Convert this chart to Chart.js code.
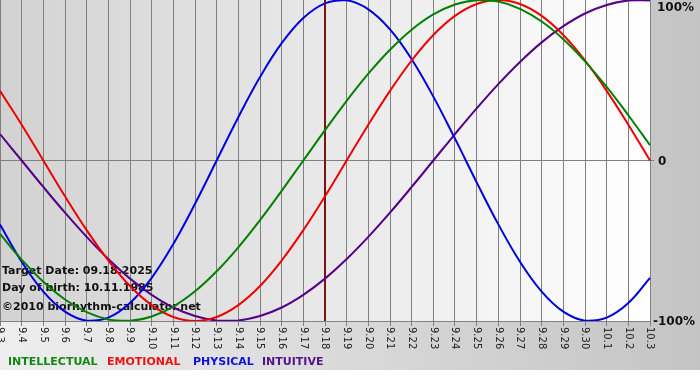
<!DOCTYPE html>
<html>
<head>
<meta charset="utf-8">
<script src="https://cdn.jsdelivr.net/npm/chart.js@4/dist/chart.umd.min.js"></script>
<style>
  html, body { margin: 0; padding: 0; background: #ffffff; }
  #wrap { width: 700px; height: 380px; }
</style>
</head>
<body>
<div id="wrap"><canvas id="c" width="700" height="380"></canvas></div>
<script>
// ---- data ----
const labels = ['9.3','9.4','9.5','9.6','9.7','9.8','9.9','9.10','9.11','9.12','9.13','9.14','9.15','9.16','9.17','9.18','9.19','9.20','9.21','9.22','9.23','9.24','9.25','9.26','9.27','9.28','9.29','9.30','10.1','10.2','10.3'];
const intellectual = [-45.8,-61.8,-75.6,-86.6,-94.5,-99.0,-99.9,-97.2,-91.0,-81.5,-69.0,-54.1,-37.2,-18.9,0,18.9,37.2,54.1,69.0,81.5,91.0,97.2,99.9,99.0,94.5,86.6,75.6,61.8,45.8,28.2,9.5];
const emotional = [43.4,22.3,0,-22.3,-43.4,-62.3,-78.2,-90.1,-97.5,-100,-97.5,-90.1,-78.2,-62.3,-43.4,-22.3,0,22.3,43.4,62.3,78.2,90.1,97.5,100,97.5,90.1,78.2,62.3,43.4,22.3,0];
const physical = [-39.8,-63.1,-81.7,-94.2,-99.8,-97.9,-88.8,-73.1,-52.0,-27.0,0,27.0,52.0,73.1,88.8,97.9,99.8,94.2,81.7,63.1,39.8,13.6,-13.6,-39.8,-63.1,-81.7,-94.2,-99.8,-97.9,-88.8,-73.1];
const intuitive = [16.5,0,-16.5,-32.5,-47.6,-61.4,-73.6,-83.7,-91.6,-96.9,-99.7,-99.7,-96.9,-91.6,-83.7,-73.6,-61.4,-47.6,-32.5,-16.5,0,16.5,32.5,47.6,61.4,73.6,83.7,91.6,96.9,99.7,99.7];
const yTickValues = [-100, 0, 100];
const yTickLabels = ['-100%', '0', '100%'];
const targetLabel = '9.18';
const infoLines = ['Target Date: 09.18.2025', 'Day of birth: 10.11.1985', '\u00A92010 biorhythm-calculator.net'];
const legendNames = ['INTELLECTUAL', 'EMOTIONAL', 'PHYSICAL', 'INTUITIVE'];

const colors = ['#008000', '#ee0000', '#0000dd', '#550088'];
const legendColors = ['#118811', '#ee1111', '#1111dd', '#551188'];

const bgPlugin = {
  id: 'bg',
  beforeDraw(chart) {
    const ctx = chart.ctx, a = chart.chartArea;
    ctx.save();
    // outer background
    const g = ctx.createLinearGradient(0, 0, chart.width, 0);
    g.addColorStop(0, '#eeeeee');
    g.addColorStop(1, '#c4c4c4');
    ctx.fillStyle = g;
    ctx.fillRect(0, 0, chart.width, 370);
    const g3 = ctx.createLinearGradient(0, 0, chart.width, 0);
    g3.addColorStop(0, '#d0d0d0');
    g3.addColorStop(0.9, '#c8c8c8');
    g3.addColorStop(1, '#c4c4c4');
    ctx.fillStyle = g3;
    ctx.fillRect(a.right, 0, chart.width - a.right, a.bottom + 20);
    ctx.fillStyle = '#ffffff';
    ctx.fillRect(0, 370, chart.width, chart.height - 370);
    // plot area
    const g2 = ctx.createLinearGradient(a.left, 0, a.right, 0);
    g2.addColorStop(0, '#d2d2d2');
    g2.addColorStop(1, '#ffffff');
    ctx.fillStyle = g2;
    ctx.fillRect(a.left, a.top, a.right - a.left, a.bottom - a.top);
    ctx.restore();
  },
  beforeDatasetsDraw(chart) {
    const ctx = chart.ctx, a = chart.chartArea;
    const xs = chart.scales.x;
    ctx.save();
    // target line
    const tx = Math.round(xs.getPixelForValue(labels.indexOf(targetLabel)));
    ctx.strokeStyle = '#7a1414';
    ctx.lineWidth = 2;
    ctx.beginPath();
    ctx.moveTo(tx, a.top);
    ctx.lineTo(tx, a.bottom);
    ctx.stroke();
    // info text
    ctx.fillStyle = '#111111';
    ctx.font = 'bold 11px "DejaVu Sans"';
    ctx.textBaseline = 'middle';
    ctx.textAlign = 'left';
    ctx.fillText(infoLines[0], 2, 271, 152);
    ctx.fillText(infoLines[1], 2, 288, 152);
    ctx.fillText(infoLines[2], 2, 307, 201);
    ctx.restore();
  },
  afterDraw(chart) {
    const ctx = chart.ctx, a = chart.chartArea;
    const xs = chart.scales.x, ys = chart.scales.y;
    ctx.save();
    // rotated x labels
    ctx.fillStyle = '#222222';
    ctx.font = '10px "DejaVu Sans"';
    ctx.textBaseline = 'middle';
    ctx.textAlign = 'left';
    labels.forEach((lb, i) => {
      const x = xs.getPixelForValue(i);
      ctx.save();
      ctx.translate(x, a.bottom + 6);
      ctx.rotate(Math.PI / 2);
      ctx.fillText(lb, 0, 0);
      ctx.restore();
    });
    // y labels
    ctx.fillStyle = '#111111';
    ctx.font = 'bold 12px "DejaVu Sans"';
    yTickValues.forEach((v, i) => {
      let y = ys.getPixelForValue(v);
      if (y < a.top + 7) y = a.top + 7;
      const txt = yTickLabels[i];
      ctx.fillText(txt, txt === '0' ? a.right + 8 : (txt === '100%' ? a.right + 7 : a.right + 3), y + 1, 46);
    });
    // legend
    ctx.font = 'bold 11px "DejaVu Sans"';
    const lx = [8, 107, 193, 262];
    const lw = [92, 75, 61, 67];
    legendNames.forEach((n, i) => {
      ctx.fillStyle = legendColors[i];
      ctx.fillText(n, lx[i], 362, lw[i]);
    });
    ctx.restore();
  }
};

const mk = (label, data, color) => ({
  label, data, borderColor: color, backgroundColor: color,
  borderWidth: 2, pointRadius: 0, tension: 0.4, fill: false
});

new Chart(document.getElementById('c'), {
  type: 'line',
  data: {
    labels,
    datasets: [
      mk('INTELLECTUAL', intellectual, colors[0]),
      mk('EMOTIONAL', emotional, colors[1]),
      mk('PHYSICAL', physical, colors[2]),
      mk('INTUITIVE', intuitive, colors[3])
    ]
  },
  options: {
    responsive: false,
    animation: false,
    devicePixelRatio: 1,
    layout: { padding: 0 },
    plugins: { legend: { display: false }, tooltip: { enabled: false } },
    scales: {
      x: {
        type: 'category',
        offset: false,
        grid: { color: '#808080', lineWidth: 1, tickLength: 5, drawTicks: true },
        border: { display: true, color: '#808080' },
        ticks: { display: false },
        afterFit(s) { s.height = 59; }
      },
      y: {
        position: 'right',
        min: -100, max: 100,
        afterBuildTicks(s) { s.ticks = yTickValues.map(v => ({ value: v })); },
        grid: {
          color: (c) => (c.tick && c.tick.value === 0) ? '#808080' : 'rgba(0,0,0,0)',
          tickLength: 4, drawTicks: true
        },
        border: { display: false },
        ticks: { display: false },
        afterFit(s) { s.width = 50; }
      }
    }
  },
  plugins: [bgPlugin]
});
</script>
</body>
</html>
